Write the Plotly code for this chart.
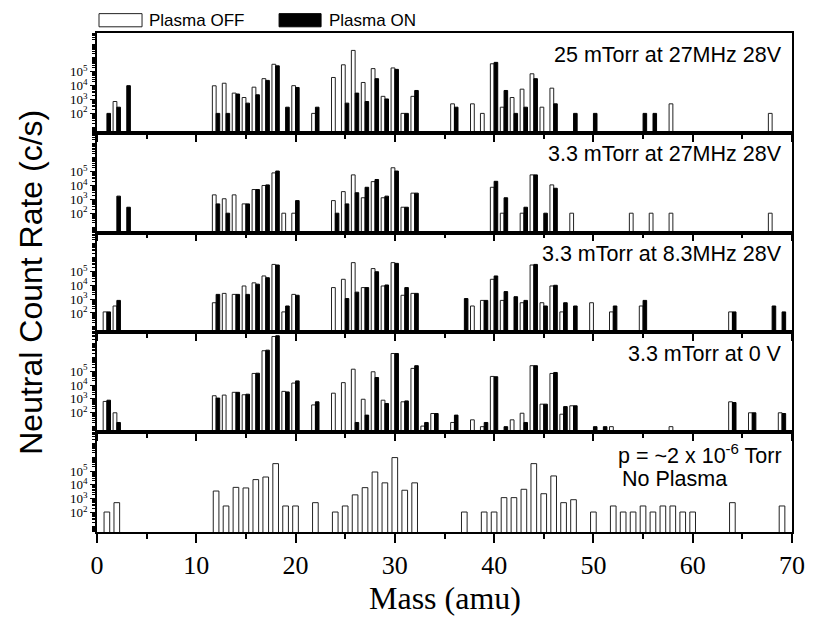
import plotly.graph_objects as go
from plotly.subplots import make_subplots

# ---- data: neutral count rate (c/s) versus mass (amu) ----
panel_titles = ["25 mTorr at 27MHz 28V", "3.3 mTorr at 27MHz 28V",
                "3.3 mTorr at 8.3MHz 28V", "3.3 mTorr at 0 V"]

p1_off_mass = [2, 12, 13, 14, 15, 16, 17, 18, 20, 22, 24, 25, 26, 27, 28, 29, 30, 31, 32,
               36, 38, 39, 40, 41, 42, 43, 44, 45, 46, 58, 68]
p1_off_rate = [7.2e2, 9.8e3, 1.5e4, 2.9e3, 1.4e3, 7.8e3, 3.2e4, 3.5e5, 1.0e4, 1.0e2, 3.9e4,
               3.2e5, 3.5e6, 1.7e4, 1.7e5, 1.7e3, 1.9e5, 1.0e2, 1.7e3,
               4.9e2, 4.9e2, 1.0e2, 3.8e5, 2.8e2, 1.4e3, 5.6e3, 7.2e4, 2.8e2, 6.6e3, 4.9e2, 1.0e2]
p1_on_mass = [1, 2, 3, 12, 13, 14, 15, 16, 17, 18, 19, 20, 22, 25, 26, 27, 28, 29, 30, 31, 32,
              36, 40, 41, 42, 43, 44, 46, 48, 50, 55, 56]
p1_on_rate = [1.0e2, 2.8e2, 1.0e4, 1.0e2, 1.0e2, 2.5e3, 5.5e2, 2.2e3, 2.4e4, 2.7e5, 2.8e2, 7.4e3,
              2.8e2, 5.5e2, 2.9e3, 7.2e2, 3.2e4, 1.1e3, 1.5e5, 1.0e2, 4.5e3,
              2.8e2, 4.8e5, 4.5e3, 1.0e2, 2.8e2, 3.2e4, 4.9e2, 1.0e2, 1.0e2, 1.0e2, 1.0e2]

p2_off_mass = [12, 13, 14, 15, 16, 17, 18, 19, 20, 24, 25, 26, 27, 28, 29, 30, 31, 32,
               40, 41, 43, 44, 46, 48, 54, 56, 58, 68]
p2_off_rate = [2.1e3, 1.1e3, 2.1e3, 4.7e2, 5.1e3, 1.0e4, 8.1e4, 1.0e2, 1.0e2, 8.1e2, 3.6e3,
               5.8e4, 1.3e3, 1.9e4, 1.3e3, 1.9e5, 2.7e2, 2.8e3,
               7.4e3, 1.0e2, 1.0e2, 5.8e4, 1.1e4, 1.0e2, 1.0e2, 1.0e2, 1.0e2, 1.0e2]
p2_on_mass = [2, 3, 12, 13, 15, 16, 17, 18, 20, 24, 25, 26, 27, 28, 29, 30, 31, 32,
              40, 41, 43, 44, 45, 46]
p2_on_rate = [1.7e3, 2.7e2, 4.7e2, 1.0e2, 4.7e2, 5.1e3, 1.1e4, 1.1e5, 8.1e2, 1.0e2, 4.7e2,
              3.0e3, 7.4e3, 2.7e4, 1.7e3, 1.1e5, 2.7e2, 2.8e3,
              2.0e4, 1.3e3, 2.7e2, 5.8e4, 1.0e2, 6.3e3]

p3_off_mass = [1, 2, 12, 13, 14, 15, 16, 17, 18, 19, 20, 24, 25, 26, 27, 28, 29, 30, 31, 32,
               38, 39, 40, 41, 43, 44, 45, 46, 47, 50, 52, 55, 64]
p3_off_rate = [1.2e2, 3.2e2, 5.5e2, 2.6e3, 2.2e3, 8.9e3, 1.5e4, 4.7e4, 3.2e5, 1.2e2, 2.2e3,
               6.8e3, 2.7e4, 4.3e5, 6.8e3, 1.6e5, 8.9e3, 4.3e5, 1.9e3, 2.6e3,
               3.2e2, 8.1e2, 2.7e4, 8.1e2, 5.5e2, 2.9e5, 5.5e2, 8.9e3, 1.2e2, 5.5e2, 1.2e2,
               3.2e2, 1.2e2]
p3_on_mass = [1, 2, 12, 14, 15, 16, 17, 18, 19, 20, 25, 26, 27, 28, 29, 30, 31, 32,
              37, 39, 40, 41, 42, 43, 44, 45, 46, 47, 48, 52, 55, 64, 68, 69]
p3_on_rate = [1.2e2, 8.1e2, 2.2e3, 2.2e3, 2.2e3, 1.2e4, 3.5e4, 2.9e5, 3.2e2, 1.9e3, 1.1e3,
              3.2e3, 6.8e3, 9.5e4, 1.05e4, 3.8e5, 6.8e3, 2.6e3,
              1.1e3, 8.1e2, 4.7e4, 3.5e3, 1.5e3, 8.1e2, 3.2e5, 3.2e2, 1.0e4, 5.5e2, 3.2e2,
              3.2e2, 8.1e2, 1.2e2, 3.2e2, 1.2e2]

p4_off_mass = [1, 2, 12, 13, 14, 15, 16, 17, 18, 19, 20, 22, 24, 25, 26, 27, 28, 29, 30, 31,
               32, 33, 34, 36, 38, 39, 40, 42, 43, 44, 45, 46, 47, 48, 52, 58, 64, 66, 69]
p4_off_rate = [6.6e2, 1.0e2, 1.7e3, 1.9e3, 3.0e3, 2.0e3, 6.9e4, 3.0e6, 3.2e7, 3.5e3, 1.4e4,
               3.7e2, 2.6e3, 1.5e4, 1.4e5, 9.5e2, 9.1e4, 8.1e2, 1.9e6, 6.2e2,
               1.6e5, 1.1e1, 8.9e1, 2.0e1, 3.1e1, 1.0e1, 4.2e4, 3.1e1, 9.3e1, 2.5e5, 4.2e2,
               6.9e4, 7.9e1, 3.2e2, 1.0e1, 1.0e1, 6.2e2, 1.0e2, 1.0e2]
p4_on_mass = [1, 2, 12, 14, 15, 16, 17, 18, 19, 20, 22, 26, 27, 28, 29, 30, 31, 32, 33, 34,
              36, 39, 40, 41, 43, 44, 45, 46, 47, 48, 50, 51, 64, 66, 69]
p4_on_rate = [8.1e2, 2.0e1, 1.15e3, 3.0e3, 2.2e3, 7.2e4, 3.3e6, 3.6e7, 3.2e3, 2.0e4, 6.2e2,
              2.0e1, 6.8e1, 3.5e4, 4.7e2, 1.9e6, 7.2e2, 2.5e5, 2.0e1, 8.9e1,
              6.8e1, 2.0e1, 4.0e4, 1.0e1, 2.0e1, 2.5e5, 4.2e2, 8.1e4, 2.8e2, 3.2e2, 1.0e1,
              1.0e1, 5.5e2, 1.0e2, 8.9e1]

# background, no plasma
p5_mass = [1, 2, 12, 13, 14, 15, 16, 17, 18, 19, 20, 22, 24, 25, 26, 27, 28, 29, 30, 31, 32,
           37, 39, 40, 41, 42, 43, 44, 45, 46, 47, 48, 50, 52, 53, 54, 55, 56, 57, 58, 59, 60,
           64, 69]
p5_rate = [1.1e2, 5.2e2, 3.6e3, 3.0e2, 6.6e3, 6.0e3, 2.4e4, 3.7e4, 3.4e5, 3.0e2, 3.0e2, 5.2e2,
           1.1e2, 3.0e2, 1.9e3, 6.3e3, 8.5e4, 1.4e4, 9.3e5, 4.1e3, 1.4e4,
           1.1e2, 1.1e2, 1.1e2, 1.2e3, 1.2e3, 4.8e3, 3.4e5, 2.3e3, 4.4e4, 5.2e2, 8.5e2, 1.1e2,
           3.0e2, 1.1e2, 1.1e2, 3.0e2, 1.1e2, 3.0e2, 3.0e2, 1.1e2, 1.1e2, 5.2e2, 3.0e2]

x_ticks = [0, 10, 20, 30, 40, 50, 60, 70]
y_ticks = [1e2, 1e3, 1e4, 1e5]
y_tick_text = ["10<sup>2</sup>", "10<sup>3</sup>", "10<sup>4</sup>", "10<sup>5</sup>"]

paired = [(p1_off_mass, p1_off_rate, p1_on_mass, p1_on_rate),
          (p2_off_mass, p2_off_rate, p2_on_mass, p2_on_rate),
          (p3_off_mass, p3_off_rate, p3_on_mass, p3_on_rate),
          (p4_off_mass, p4_off_rate, p4_on_mass, p4_on_rate)]

SANS = "Liberation Sans, Arial, sans-serif"
SERIF = "Liberation Serif, Times New Roman, serif"

fig = make_subplots(rows=5, cols=1, shared_xaxes=True, vertical_spacing=0)

off_marker = dict(color="white", line=dict(color="#222222", width=1))
on_marker = dict(color="black", line=dict(color="black", width=1))

for i, (om, ov, nm, nv) in enumerate(paired):
    fig.add_trace(go.Bar(x=om, y=ov, width=0.38, offset=-0.38, marker=off_marker,
                         name="Plasma OFF", showlegend=False), row=i + 1, col=1)
    fig.add_trace(go.Bar(x=nm, y=nv, width=0.36, offset=0.0, marker=on_marker,
                         name="Plasma ON", showlegend=False), row=i + 1, col=1)

fig.add_trace(go.Bar(x=p5_mass, y=p5_rate, width=0.57, offset=-0.29, marker=off_marker,
                     name="No Plasma", showlegend=False), row=5, col=1)

for r in range(1, 6):
    fig.update_xaxes(range=[0, 70], tickvals=x_ticks, showline=True, linecolor="black",
                     linewidth=1.5, mirror=True, ticks="outside", ticklen=7 if r < 5 else 9,
                     tickwidth=1.5, tickcolor="black",
                     minor=dict(dtick=5, tick0=0, ticks="outside", ticklen=4 if r < 5 else 5,
                                tickwidth=1.5, tickcolor="black", showgrid=False),
                     showgrid=False, zeroline=False, showticklabels=(r == 5),
                     tickfont=dict(family=SERIF, size=26, color="black"), row=r, col=1)
    fig.update_yaxes(type="log", range=[0.6, 7.8], tickmode="array", tickvals=y_ticks,
                     ticktext=y_tick_text, showline=True, linecolor="black", linewidth=1.5,
                     mirror=True, ticks="outside", ticklen=5, tickwidth=1.2, tickcolor="black",
                     minor=dict(ticks="outside", ticklen=3, tickwidth=1, tickcolor="black",
                                dtick="D1", showgrid=False),
                     showgrid=False, zeroline=False,
                     tickfont=dict(family=SERIF, size=13, color="black"), row=r, col=1)

# inward ticks along the top edge of the first panel
fig.update_layout(xaxis6=dict(overlaying="x", side="top", anchor="y", range=[0, 70],
                              tickvals=x_ticks, ticks="inside", ticklen=6, tickwidth=1.5,
                              tickcolor="black", showticklabels=False, showgrid=False,
                              zeroline=False, showline=False,
                              minor=dict(dtick=5, tick0=0, ticks="inside", ticklen=4,
                                         tickwidth=1.5, tickcolor="black")))

annotations = []
for i, t in enumerate(panel_titles):
    annotations.append(dict(text=t, xref="paper", yref="paper", x=0.988, y=1 - i * 0.2 - 0.0431,
                            xanchor="right", yanchor="middle", showarrow=False,
                            font=dict(family=SANS, size=21.5, color="black")))
annotations.append(dict(text="p = ~2 x 10<sup>-6</sup> Torr", xref="paper", yref="paper",
                        x=0.988, y=0.1573, xanchor="right", yanchor="middle", showarrow=False,
                        font=dict(family=SANS, size=21.5, color="black")))
annotations.append(dict(text="No Plasma", xref="paper", yref="paper",
                        x=0.7528, y=0.1071, xanchor="left", yanchor="middle", showarrow=False,
                        font=dict(family=SANS, size=21.5, color="black")))
annotations.append(dict(text="Neutral Count Rate (c/s)", xref="paper", yref="paper",
                        x=-0.096, y=0.5, xanchor="center", yanchor="middle", textangle=-90,
                        showarrow=False, font=dict(family=SANS, size=32, color="black")))
annotations.append(dict(text="Mass (amu)", xref="paper", yref="paper",
                        x=0.5, y=-0.133, xanchor="center", yanchor="middle",
                        showarrow=False, font=dict(family=SERIF, size=32, color="black")))
# legend labels
annotations.append(dict(text="Plasma OFF", xref="paper", yref="paper", x=0.0723, y=1.0257,
                        xanchor="left", yanchor="middle", showarrow=False,
                        font=dict(family=SANS, size=17, color="black")))
annotations.append(dict(text="Plasma ON", xref="paper", yref="paper", x=0.331, y=1.0257,
                        xanchor="left", yanchor="middle", showarrow=False,
                        font=dict(family=SANS, size=17, color="black")))

legend_swatches = [
    dict(type="rect", xref="paper", yref="paper", x0=0.0029, x1=0.0648, y0=1.0124, y1=1.0388,
         fillcolor="white", line=dict(color="#222222", width=1)),
    dict(type="rect", xref="paper", yref="paper", x0=0.262, x1=0.3224, y0=1.0124, y1=1.0388,
         fillcolor="black", line=dict(color="black", width=1)),
]

fig.update_layout(width=817, height=620, margin=dict(l=97, r=19, t=33, b=88),
                  barmode="overlay", plot_bgcolor="white", paper_bgcolor="white",
                  showlegend=False, annotations=annotations, shapes=legend_swatches)

fig.write_html("out.html")
